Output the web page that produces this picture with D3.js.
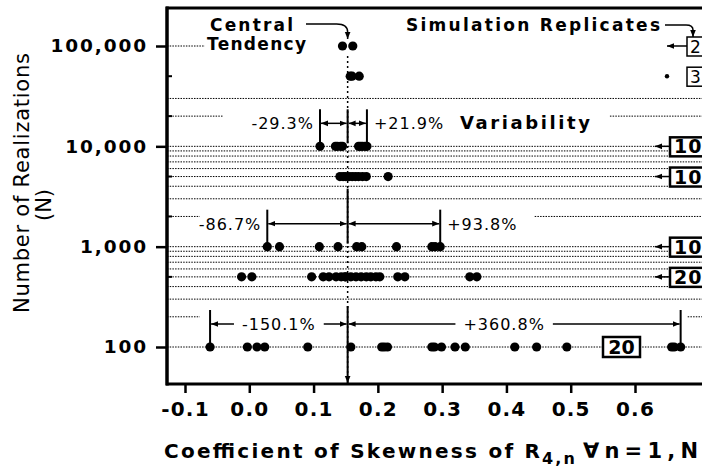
<!DOCTYPE html>
<html>
<head>
<meta charset="utf-8">
<script src="https://cdn.jsdelivr.net/npm/d3@7"></script>
<style>
  body { margin: 0; background: #fff; }
  text { font-family: "DejaVu Sans", sans-serif; fill: #000; }
</style>
</head>
<body>
<div id="chart"></div>
<script>
// sample sizes (N) and the skewness coefficient of every simulation replicate
var nLevels = [100000, 50000, 10000, 5000, 1000, 500, 100];
var rep100000 = [0.145, 0.161];
var rep50000 = [0.157, 0.160, 0.171];
var rep10000 = [0.110, 0.134, 0.137, 0.142, 0.145, 0.170, 0.173, 0.176, 0.180, 0.183];
var rep5000 = [0.141, 0.146, 0.150, 0.155, 0.160, 0.165, 0.170, 0.176, 0.182, 0.216];
var rep1000 = [0.028, 0.047, 0.109, 0.138, 0.167, 0.175, 0.229, 0.284, 0.289, 0.297];
var rep500 = [-0.012, 0.004, 0.097, 0.115, 0.124, 0.135, 0.143, 0.149, 0.150, 0.158,
  0.166, 0.174, 0.182, 0.189, 0.197, 0.203, 0.231, 0.242, 0.343, 0.354];
var rep100 = [-0.061, -0.003, 0.012, 0.024, 0.091, 0.158, 0.206, 0.210, 0.215, 0.284,
  0.288, 0.299, 0.320, 0.336, 0.413, 0.447, 0.494, 0.657, 0.661, 0.671];
var replicates = [rep100000, rep50000, rep10000, rep5000, rep1000, rep500, rep100];
var replicateCounts = ["2", "3", "10", "10", "10", "20", "20"];
var centralTendency = 0.153;

// variability brackets
var bracketLevels = [10000, 1000, 100];
var bracketLow = ["-29.3%", "-86.7%", "-150.1%"];
var bracketHigh = ["+21.9%", "+93.8%", "+360.8%"];

// axes
var xTicks = [-0.1, 0, 0.1, 0.2, 0.3, 0.4, 0.5, 0.6];
var yTicks = [100, 1000, 10000, 100000];
var yMinorTicks = [500, 2000, 5000, 20000, 50000];
var gridLevels = [100000, 30000, 20000, 10000, 9000, 8000, 7000, 6000, 5000, 4000, 3000, 2000,
  1000, 900, 800, 700, 600, 500, 400, 300, 200, 100];
// gridlines that are only partly drawn (x extents in data units)
var gridPartial = {
  100000: [[-0.13, -0.069]],
  20000: [[-0.13, -0.041], [0.561, 0.72]],
  2000: [[-0.13, -0.077], [0.444, 0.72]],
  200: [[-0.13, -0.077], [0.682, 0.72]]
};

var W = 702, H = 470;
var frameL = 167, frameT = 8, frameB = 384, frameR = 702;
var x = d3.scaleLinear().domain([-0.1, 0.6]).range([185, 635]);
var y = d3.scaleLog().domain([100, 100000]).range([347, 46]);

var svg = d3.select("#chart").append("svg")
  .attr("width", W).attr("height", H)
  .style("display", "block");

var defs = svg.append("defs");
defs.append("marker").attr("id", "head")
  .attr("viewBox", "0 0 10 10").attr("refX", 10).attr("refY", 5)
  .attr("markerWidth", 7).attr("markerHeight", 7)
  .attr("markerUnits", "userSpaceOnUse")
  .attr("orient", "auto-start-reverse")
  .append("path").attr("d", "M0,1 L10,5 L0,9 Z").attr("fill", "#000");

// dotted gridlines
var gridSegs = [];
gridLevels.forEach(function (n) {
  var segs = gridPartial[n] || [[x.invert(frameL), x.invert(frameR)]];
  segs.forEach(function (s) { gridSegs.push({ n: n, a: s[0], b: s[1] }); });
});
svg.append("g").selectAll("line").data(gridSegs).enter().append("line")
  .attr("x1", function (d) { return Math.max(frameL, x(d.a)); })
  .attr("x2", function (d) { return Math.min(frameR, x(d.b)); })
  .attr("y1", function (d) { return y(d.n); })
  .attr("y2", function (d) { return y(d.n); })
  .attr("stroke", "#000").attr("stroke-width", 1)
  .attr("stroke-dasharray", "1.5,1.2");

// central tendency line (dashed), solid parts come with the brackets
var xc = x(centralTendency);
svg.append("line")
  .attr("x1", xc).attr("x2", xc)
  .attr("y1", y(100000) + 10).attr("y2", frameB)
  .attr("stroke", "#000").attr("stroke-width", 1.5)
  .attr("stroke-dasharray", "2,3");

// brackets
var centralTop = [37, 58, 41];
bracketLevels.forEach(function (n, i) {
  var vals = replicates[nLevels.indexOf(n)];
  var lo = x(d3.min(vals)), hi = x(d3.max(vals));
  var yr = y(n), top = yr - 37, bot = yr - 3, ay = yr - 23;
  var g = svg.append("g");
  [lo, hi].forEach(function (px) {
    g.append("line").attr("x1", px).attr("x2", px).attr("y1", top).attr("y2", bot)
      .attr("stroke", "#000").attr("stroke-width", 2);
  });
  var last = i === bracketLevels.length - 1;
  g.append("line").attr("x1", xc).attr("x2", xc)
    .attr("y1", yr - centralTop[i]).attr("y2", last ? frameB - 1 : bot)
    .attr("stroke", "#000").attr("stroke-width", 2)
    .attr("marker-end", last ? "url(#head)" : null);
  [[lo + 1, xc - 1], [xc + 1, hi - 1]].forEach(function (s) {
    g.append("line").attr("x1", s[0]).attr("x2", s[1]).attr("y1", ay).attr("y2", ay)
      .attr("stroke", "#000").attr("stroke-width", 1.5)
      .attr("marker-start", "url(#head)").attr("marker-end", "url(#head)");
  });
  var labels = [
    { t: bracketLow[i], px: last ? (lo + xc) / 2 : lo - 6, anchor: last ? "middle" : "end" },
    { t: bracketHigh[i], px: last ? (xc + hi) / 2 - 10 : hi + 7, anchor: last ? "middle" : "start" }
  ];
  labels.forEach(function (l) {
    var t = g.append("text").attr("x", l.px).attr("y", ay + 6)
      .attr("text-anchor", l.anchor)
      .style("font-size", "16px").style("letter-spacing", "1px")
      .text(l.t);
    if (last) {
      var bb = t.node().getBBox();
      g.insert("rect", "text").attr("x", bb.x - 8).attr("y", bb.y)
        .attr("width", bb.width + 16).attr("height", bb.height).attr("fill", "#fff");
    }
  });
});

// replicate points
var points = [];
nLevels.forEach(function (n, i) {
  replicates[i].forEach(function (v) { points.push({ n: n, v: v }); });
});
svg.append("g").selectAll("circle").data(points).enter().append("circle")
  .attr("cx", function (d) { return x(d.v); })
  .attr("cy", function (d) { return y(d.n); })
  .attr("r", 4.6).attr("fill", "#000");

// replicate-count boxes on the right
nLevels.forEach(function (n, i) {
  var yr = y(n);
  var g = svg.append("g");
  if (n === 100) {
    g.append("rect").attr("x", 603).attr("y", yr - 10).attr("width", 37).attr("height", 20)
      .attr("fill", "#fff").attr("stroke", "#000").attr("stroke-width", 2.5);
    g.append("text").attr("x", 621.5).attr("y", yr + 7).attr("text-anchor", "middle")
      .style("font-size", "19px").style("font-weight", "bold").text(replicateCounts[i]);
    return;
  }
  var small = n >= 50000;
  var bx = small ? 687 : 670;
  g.append("rect").attr("x", bx).attr("y", yr - 9).attr("width", 60).attr("height", 19)
    .attr("fill", "#fff").attr("stroke", "#000").attr("stroke-width", small ? 1.5 : 2.5);
  g.append("text").attr("x", small ? bx + 3 : bx + 4).attr("y", yr + 7)
    .style("font-size", small ? "17px" : "19px").style("font-weight", small ? "normal" : "bold")
    .style("letter-spacing", small ? "0px" : "1px").text(replicateCounts[i]);
  if (n === 50000) {
    g.append("circle").attr("cx", 667).attr("cy", yr).attr("r", 2.2).attr("fill", "#000");
  } else {
    g.append("line").attr("x1", bx).attr("x2", small ? 667 : 655).attr("y1", yr).attr("y2", yr)
      .attr("stroke", "#000").attr("stroke-width", 1.5).attr("marker-end", "url(#head)");
  }
});

// annotations
function boldLabel(txt, px, py, len) {
  return svg.append("text").attr("x", px).attr("y", py)
    .style("font-size", "17px").style("font-weight", "bold")
    .attr("textLength", len).attr("lengthAdjust", "spacing").text(txt);
}
boldLabel("Central", 210, 31, 83);
boldLabel("Tendency", 207, 50, 99);
boldLabel("Simulation Replicates", 406, 31, 254);
boldLabel("Variability", 460, 129, 130).style("font-size", "18px");

svg.append("path")
  .attr("d", "M306,24 H" + (xc - 11) + " Q" + xc + ",24 " + xc + ",32 V" + (y(100000) - 7))
  .attr("fill", "none").attr("stroke", "#000").attr("stroke-width", 1.5)
  .attr("marker-end", "url(#head)");
svg.append("path")
  .attr("d", "M665,25 H686 Q693,25 693,30 V" + (y(100000) - 9))
  .attr("fill", "none").attr("stroke", "#000").attr("stroke-width", 1.5)
  .attr("marker-end", "url(#head)");

// frame
svg.append("line").attr("x1", frameL - 1).attr("x2", frameR).attr("y1", frameT).attr("y2", frameT)
  .attr("stroke", "#000").attr("stroke-width", 3);
svg.append("line").attr("x1", frameL - 1).attr("x2", frameR).attr("y1", frameB).attr("y2", frameB)
  .attr("stroke", "#000").attr("stroke-width", 3);

// y axis
var yAxis = d3.axisLeft(y).tickValues(yTicks).tickFormat(d3.format(","))
  .tickSize(11).tickPadding(8);
var gy = svg.append("g").attr("transform", "translate(" + frameL + ",0)").call(yAxis);
gy.select(".domain").remove();
gy.selectAll(".tick line").attr("stroke-width", 2.5);
gy.selectAll(".tick text")
  .style("font-family", "'DejaVu Sans', sans-serif")
  .style("font-size", "18.5px").style("font-weight", "bold")
  .style("letter-spacing", "1.9px").attr("fill", "#000");
gy.selectAll(".minor").data(yMinorTicks).enter().append("line")
  .attr("x1", 0).attr("x2", 5)
  .attr("y1", function (d) { return y(d); }).attr("y2", function (d) { return y(d); })
  .attr("stroke", "#000").attr("stroke-width", 2);
svg.append("line").attr("x1", frameL).attr("x2", frameL).attr("y1", frameT - 1.5).attr("y2", frameB + 1.5)
  .attr("stroke", "#000").attr("stroke-width", 3.5);

// x axis
var xAxis = d3.axisBottom(x).tickValues(xTicks)
  .tickFormat(function (d) { return d.toFixed(1); })
  .tickSize(9).tickPadding(9);
var gx = svg.append("g").attr("transform", "translate(0," + frameB + ")").call(xAxis);
gx.select(".domain").remove();
gx.selectAll(".tick line").attr("stroke-width", 2.5);
gx.selectAll(".tick text")
  .style("font-family", "'DejaVu Sans', sans-serif")
  .style("font-size", "20px").style("font-weight", "bold")
  .style("letter-spacing", "1.2px").attr("fill", "#000");

// axis titles
svg.append("text").attr("transform", "translate(29,183) rotate(-90)")
  .attr("text-anchor", "middle").style("font-size", "21px")
  .attr("textLength", 260).attr("lengthAdjust", "spacing")
  .text("Number of Realizations");
svg.append("text").attr("transform", "translate(51,205) rotate(-90)")
  .attr("text-anchor", "middle").style("font-size", "21px").text("(N)");

var titleStyle = function (t, size) {
  return t.style("font-size", size).style("font-weight", "bold").attr("lengthAdjust", "spacing");
};
titleStyle(svg.append("text").attr("x", 164).attr("y", 458).attr("textLength", 376)
  .text("Coefficient of Skewness of R"), "20px");
titleStyle(svg.append("text").attr("x", 542).attr("y", 464).attr("textLength", 33)
  .text("4,n"), "16px");
titleStyle(svg.append("text").attr("x", 583).attr("y", 458).attr("textLength", 115)
  .text("\u2200n=1,N"), "21px");
</script>
</body>
</html>
